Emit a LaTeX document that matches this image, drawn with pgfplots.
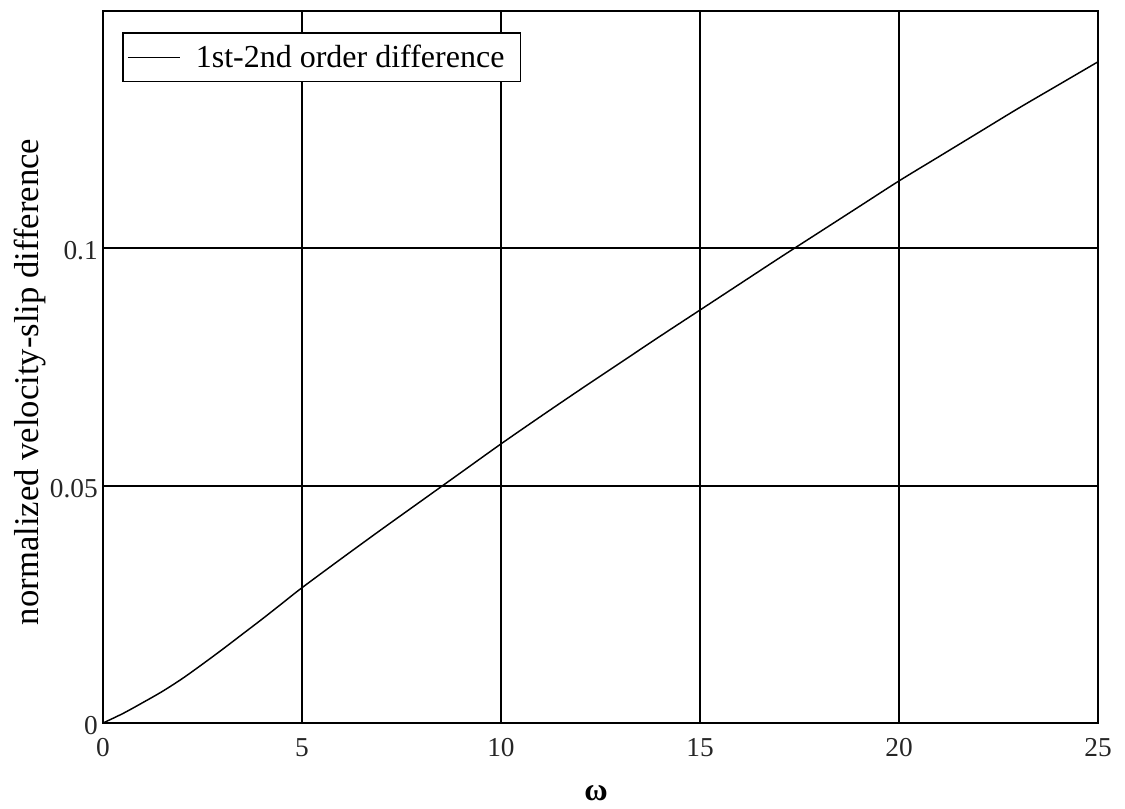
\documentclass[border=0pt]{standalone}
\usepackage{fontspec}
\setmainfont{Liberation Serif}
\usepackage{pgfplots}
\pgfplotsset{compat=1.18}

\begin{document}
\begin{tikzpicture}
% fixed page frame around the axis box
\useasboundingbox (-77.25pt,-63.75pt) rectangle (766.5pt,542.25pt);
\begin{axis}[
  scale only axis,
  width=746.25pt, height=534pt,
  xmin=0, xmax=25, ymin=0, ymax=0.15,
  xtick={0,5,10,15,20,25},
  xticklabels={0,5,10,15,20,25},
  ytick={0,0.05,0.1},
  yticklabels={0,0.05,0.1},
  major tick length=0pt,
  grid=major,
  major grid style={black, line width=1.4pt},
  axis line style={black, line width=1.4pt},
  tick label style={font=\fontsize{20.5}{22}\selectfont, text=black!85, inner sep=0pt},
  xticklabel style={anchor=center, yshift=-18.75pt},
  yticklabel style={anchor=east, xshift=-3.75pt, yshift=-2pt},
  every axis x label/.style={at={(axis description cs:0.4955,-0.0983)}, anchor=center},
  every axis y label/.style={at={(axis description cs:-0.0734,0.479)}, rotate=90, anchor=center},
  xlabel={\fontsize{24}{26}\selectfont\textbf{ω}},
  ylabel={\fontsize{26}{28}\selectfont normalized velocity-slip difference},
  legend style={
    at={(0.019,0.9705)}, anchor=north west,
    draw=black, line width=1.4pt,
    font=\fontsize{24}{26}\selectfont,
    inner xsep=0pt, inner ysep=7pt,
    nodes={inner xsep=0pt},
    cells={anchor=west},
  },
  legend image code/.code={
    \path[draw=none] (-3.75pt,0pt) -- (51pt,0pt);
    \draw[#1, line width=1pt] (0pt,0pt) -- (39pt,0pt);
  },
]
\addplot[black, line width=1.1pt, smooth] coordinates {
  (0,0) (0.5,0.0020) (1,0.0043) (1.5,0.0067) (2,0.0094) (2.5,0.0124)
  (3,0.0155) (3.5,0.0187) (4,0.0219) (4.5,0.0252) (5,0.0285)
  (6,0.0347) (7,0.0408) (8,0.0468)
  (9,0.0528) (10,0.0588) (11,0.0646) (12,0.0703) (13,0.0759) (14,0.0815)
  (15,0.0870) (16,0.0925) (17,0.0980) (18,0.1034) (19,0.1088) (20,0.1142)
  (21,0.1193) (22,0.1244) (23,0.1295) (24,0.1344) (25,0.1393)
};
\addlegendentry{1st-2nd order difference\hspace*{12pt}}
\end{axis}
\end{tikzpicture}
\end{document}
